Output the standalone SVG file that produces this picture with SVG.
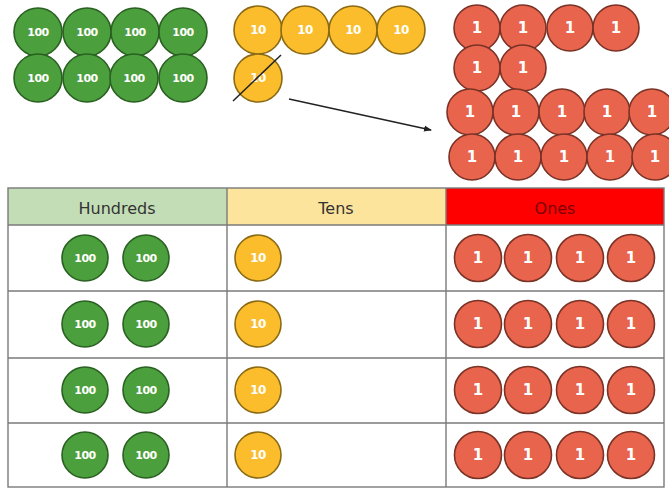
<svg xmlns="http://www.w3.org/2000/svg" width="669" height="488" viewBox="0 0 669 488">
<style>
.h{fill:#4b9f3c;stroke:#2a6022;stroke-width:1.6}
.t{fill:#fbbd2b;stroke:#8a6a14;stroke-width:1.6}
.o{fill:#e8644c;stroke:#7a3226;stroke-width:1.6}
.lbl{font-family:"DejaVu Sans",sans-serif;font-weight:bold;fill:#ffffff;text-anchor:middle;dominant-baseline:central}
.l100{font-size:11px;letter-spacing:-0.5px}
.l10{font-size:12px;letter-spacing:-0.5px}
.l1{font-size:15px}
.hdr{font-family:"DejaVu Sans",sans-serif;font-size:16px;text-anchor:middle;dominant-baseline:central}
.grid{stroke:#7a7a7a;stroke-width:1.4;fill:none}
.con{stroke:#222;stroke-width:1.5;fill:none}
</style>
<defs>
<marker id="ah" markerWidth="8" markerHeight="8" refX="7" refY="4" orient="auto" markerUnits="userSpaceOnUse">
<path d="M0,1 L8,4 L0,7 Z" fill="#222"/>
</marker>
</defs>
<rect width="669" height="488" fill="#ffffff"/>

<g id="top-hundreds">
<g id="th1"><circle class="h" cx="38" cy="32" r="24"/><text class="lbl l100" x="38" y="32">100</text></g>
<g id="th2"><circle class="h" cx="87" cy="32" r="24"/><text class="lbl l100" x="87" y="32">100</text></g>
<g id="th3"><circle class="h" cx="135" cy="32" r="24"/><text class="lbl l100" x="135" y="32">100</text></g>
<g id="th4"><circle class="h" cx="183" cy="32" r="24"/><text class="lbl l100" x="183" y="32">100</text></g>
<g id="th5"><circle class="h" cx="38" cy="78" r="24"/><text class="lbl l100" x="38" y="78">100</text></g>
<g id="th6"><circle class="h" cx="87" cy="78" r="24"/><text class="lbl l100" x="87" y="78">100</text></g>
<g id="th7"><circle class="h" cx="134" cy="78" r="24"/><text class="lbl l100" x="134" y="78">100</text></g>
<g id="th8"><circle class="h" cx="183" cy="78" r="24"/><text class="lbl l100" x="183" y="78">100</text></g>
</g>

<g id="top-tens">
<g id="tt1"><circle class="t" cx="258" cy="30" r="24"/><text class="lbl l10" x="258" y="30">10</text></g>
<g id="tt2"><circle class="t" cx="305" cy="30" r="24"/><text class="lbl l10" x="305" y="30">10</text></g>
<g id="tt3"><circle class="t" cx="353" cy="30" r="24"/><text class="lbl l10" x="353" y="30">10</text></g>
<g id="tt4"><circle class="t" cx="401" cy="30" r="24"/><text class="lbl l10" x="401" y="30">10</text></g>
<g id="tt5"><circle class="t" cx="258" cy="78" r="24"/><text class="lbl l10" x="258" y="78">10</text></g>
</g>

<g id="top-ones">
<g id="to1"><circle class="o" cx="477" cy="28" r="23"/><text class="lbl l1" x="477" y="28">1</text></g>
<g id="to2"><circle class="o" cx="523" cy="28" r="23"/><text class="lbl l1" x="523" y="28">1</text></g>
<g id="to3"><circle class="o" cx="570" cy="28" r="23"/><text class="lbl l1" x="570" y="28">1</text></g>
<g id="to4"><circle class="o" cx="616" cy="28" r="23"/><text class="lbl l1" x="616" y="28">1</text></g>
<g id="to5"><circle class="o" cx="477" cy="68" r="23"/><text class="lbl l1" x="477" y="68">1</text></g>
<g id="to6"><circle class="o" cx="523" cy="68" r="23"/><text class="lbl l1" x="523" y="68">1</text></g>
<g id="to7"><circle class="o" cx="470" cy="112" r="23"/><text class="lbl l1" x="470" y="112">1</text></g>
<g id="to8"><circle class="o" cx="516" cy="112" r="23"/><text class="lbl l1" x="516" y="112">1</text></g>
<g id="to9"><circle class="o" cx="562" cy="112" r="23"/><text class="lbl l1" x="562" y="112">1</text></g>
<g id="to10"><circle class="o" cx="607" cy="112" r="23"/><text class="lbl l1" x="607" y="112">1</text></g>
<g id="to11"><circle class="o" cx="652" cy="112" r="23"/><text class="lbl l1" x="652" y="112">1</text></g>
<g id="to12"><circle class="o" cx="472" cy="157" r="23"/><text class="lbl l1" x="472" y="157">1</text></g>
<g id="to13"><circle class="o" cx="518" cy="157" r="23"/><text class="lbl l1" x="518" y="157">1</text></g>
<g id="to14"><circle class="o" cx="564" cy="157" r="23"/><text class="lbl l1" x="564" y="157">1</text></g>
<g id="to15"><circle class="o" cx="610" cy="157" r="23"/><text class="lbl l1" x="610" y="157">1</text></g>
<g id="to16"><circle class="o" cx="655" cy="157" r="23"/><text class="lbl l1" x="655" y="157">1</text></g>
</g>

<g id="connectors">
<line class="con" x1="233" y1="101" x2="281" y2="55"/>
<line class="con" x1="289" y1="99" x2="431" y2="130" marker-end="url(#ah)"/>
</g>

<g id="table">
<rect x="8" y="188" width="219" height="37" fill="#c3deb6"/>
<rect x="227" y="188" width="219" height="37" fill="#fde49c"/>
<rect x="446" y="188" width="218" height="37" fill="#ff0000"/>
<text class="hdr" x="117" y="208" fill="#333333">Hundreds</text>
<text class="hdr" x="336" y="208" fill="#333333">Tens</text>
<text class="hdr" x="555" y="208" fill="#7a0000">Ones</text>
<rect class="grid" x="8" y="188" width="656" height="299"/>
<line class="grid" x1="227" y1="188" x2="227" y2="487"/>
<line class="grid" x1="446" y1="188" x2="446" y2="487"/>
<line class="grid" x1="8" y1="225" x2="664" y2="225"/>
<line class="grid" x1="8" y1="291" x2="664" y2="291"/>
<line class="grid" x1="8" y1="358" x2="664" y2="358"/>
<line class="grid" x1="8" y1="423" x2="664" y2="423"/>
</g>

<g id="row1">
<g id="r1h1"><circle class="h" cx="85" cy="258" r="23"/><text class="lbl l100" x="85" y="258">100</text></g>
<g id="r1h2"><circle class="h" cx="146" cy="258" r="23"/><text class="lbl l100" x="146" y="258">100</text></g>
<g id="r1t1"><circle class="t" cx="258" cy="258" r="23"/><text class="lbl l10" x="258" y="258">10</text></g>
<g id="r1o1"><circle class="o" cx="478" cy="258" r="23.5"/><text class="lbl l1" x="478" y="258">1</text></g>
<g id="r1o2"><circle class="o" cx="528" cy="258" r="23.5"/><text class="lbl l1" x="528" y="258">1</text></g>
<g id="r1o3"><circle class="o" cx="580" cy="258" r="23.5"/><text class="lbl l1" x="580" y="258">1</text></g>
<g id="r1o4"><circle class="o" cx="631" cy="258" r="23.5"/><text class="lbl l1" x="631" y="258">1</text></g>
</g>
<g id="row2">
<g id="r2h1"><circle class="h" cx="85" cy="324" r="23"/><text class="lbl l100" x="85" y="324">100</text></g>
<g id="r2h2"><circle class="h" cx="146" cy="324" r="23"/><text class="lbl l100" x="146" y="324">100</text></g>
<g id="r2t1"><circle class="t" cx="258" cy="324" r="23"/><text class="lbl l10" x="258" y="324">10</text></g>
<g id="r2o1"><circle class="o" cx="478" cy="324" r="23.5"/><text class="lbl l1" x="478" y="324">1</text></g>
<g id="r2o2"><circle class="o" cx="528" cy="324" r="23.5"/><text class="lbl l1" x="528" y="324">1</text></g>
<g id="r2o3"><circle class="o" cx="580" cy="324" r="23.5"/><text class="lbl l1" x="580" y="324">1</text></g>
<g id="r2o4"><circle class="o" cx="631" cy="324" r="23.5"/><text class="lbl l1" x="631" y="324">1</text></g>
</g>
<g id="row3">
<g id="r3h1"><circle class="h" cx="85" cy="390" r="23"/><text class="lbl l100" x="85" y="390">100</text></g>
<g id="r3h2"><circle class="h" cx="146" cy="390" r="23"/><text class="lbl l100" x="146" y="390">100</text></g>
<g id="r3t1"><circle class="t" cx="258" cy="390" r="23"/><text class="lbl l10" x="258" y="390">10</text></g>
<g id="r3o1"><circle class="o" cx="478" cy="390" r="23.5"/><text class="lbl l1" x="478" y="390">1</text></g>
<g id="r3o2"><circle class="o" cx="528" cy="390" r="23.5"/><text class="lbl l1" x="528" y="390">1</text></g>
<g id="r3o3"><circle class="o" cx="580" cy="390" r="23.5"/><text class="lbl l1" x="580" y="390">1</text></g>
<g id="r3o4"><circle class="o" cx="631" cy="390" r="23.5"/><text class="lbl l1" x="631" y="390">1</text></g>
</g>
<g id="row4">
<g id="r4h1"><circle class="h" cx="85" cy="455" r="23"/><text class="lbl l100" x="85" y="455">100</text></g>
<g id="r4h2"><circle class="h" cx="146" cy="455" r="23"/><text class="lbl l100" x="146" y="455">100</text></g>
<g id="r4t1"><circle class="t" cx="258" cy="455" r="23"/><text class="lbl l10" x="258" y="455">10</text></g>
<g id="r4o1"><circle class="o" cx="478" cy="455" r="23.5"/><text class="lbl l1" x="478" y="455">1</text></g>
<g id="r4o2"><circle class="o" cx="528" cy="455" r="23.5"/><text class="lbl l1" x="528" y="455">1</text></g>
<g id="r4o3"><circle class="o" cx="580" cy="455" r="23.5"/><text class="lbl l1" x="580" y="455">1</text></g>
<g id="r4o4"><circle class="o" cx="631" cy="455" r="23.5"/><text class="lbl l1" x="631" y="455">1</text></g>
</g>
</svg>
